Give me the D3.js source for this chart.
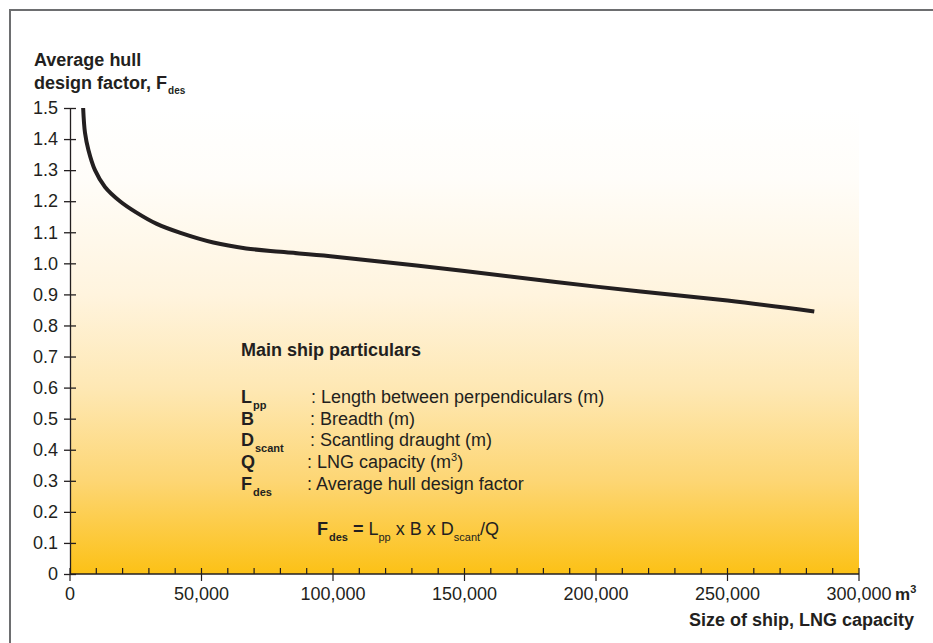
<!DOCTYPE html>
<html><head><meta charset="utf-8">
<script src="https://cdn.jsdelivr.net/npm/d3@7"></script>
<style>body{margin:0;background:#fff}svg text{font-family:"Liberation Sans",Arial,sans-serif;fill:#231f20}</style>
</head><body><svg id="c" width="933" height="643"></svg>
<script>
const capacity = [5000, 5700, 7000, 9500, 13300, 19000, 25000, 33000, 42000, 54500, 67000, 80000, 99000, 150000, 200000, 250000, 283000];
const factor   = [1.5, 1.42, 1.365, 1.30, 1.246, 1.20, 1.165, 1.127, 1.098, 1.067, 1.048, 1.037, 1.023, 0.975, 0.925, 0.88, 0.845];
const xTicks = [0, 50000, 100000, 150000, 200000, 250000, 300000];
const yTicks = [0,0.1,0.2,0.3,0.4,0.5,0.6,0.7,0.8,0.9,1.0,1.1,1.2,1.3,1.4,1.5];
const legendRows = [
  {sym:"L", sub:"pp", desc:": Length between perpendiculars (m)"},
  {sym:"B", sub:"", desc:": Breadth (m)"},
  {sym:"D", sub:"scant", desc:": Scantling draught (m)"},
  {sym:"Q", sub:"", desc:": LNG capacity (m", sup:"3", tail:")"},
  {sym:"F", sub:"des", desc:": Average hull design factor"}
];

const svg = d3.select("#c");
const x = d3.scaleLinear().domain([0,300000]).range([70,859]);
const y = d3.scaleLinear().domain([0,1.5]).range([574,108]);

// frame
svg.append("path").attr("d","M10,650 L10,10 L940,10").attr("fill","none").attr("stroke","#6d6e70").attr("stroke-width",2);

// gradient
const defs = svg.append("defs");
const g = defs.append("linearGradient").attr("id","bg").attr("x1",0).attr("y1",0).attr("x2",0).attr("y2",1);
[[0,"#ffffff"],[0.15,"#fffdf9"],[0.4,"#fff4de"],[0.6,"#fee8b4"],[0.8,"#fdd674"],[1,"#fcc116"]]
  .forEach(([o,c])=>g.append("stop").attr("offset",o).attr("stop-color",c));
svg.append("rect").attr("x",x(0)).attr("y",y(1.5)).attr("width",x(300000)-x(0)).attr("height",y(0)-y(1.5)).attr("fill","url(#bg)");

// y axis
const ya = svg.append("g").attr("transform",`translate(${x(0)},0)`)
  .call(d3.axisLeft(y).tickValues(yTicks).tickSizeInner(5).tickSizeOuter(0).tickPadding(7)
  .tickFormat(d=> d===0 ? "0" : d3.format(".1f")(d)));
ya.selectAll(".tick line").attr("x2",-6).attr("x1",6);
ya.selectAll("line,path").attr("stroke","#231f20").attr("stroke-width",1.3);
ya.selectAll("text").attr("font-size",18).attr("fill","#231f20").attr("x",-12);

// x axis
const minor = d3.range(0,300001,10000);
const xa = svg.append("g").attr("transform",`translate(0,${y(0)})`);
xa.append("line").attr("x1",x(0)).attr("x2",x(300000)).attr("stroke","#231f20").attr("stroke-width",1.5);
xa.selectAll(".mn").data(minor).join("line").attr("x1",d=>x(d)).attr("x2",d=>x(d))
  .attr("y1",-6).attr("y2",d=> d%50000===0 ? 7 : 0)
  .attr("stroke","#231f20").attr("stroke-width",1.2);
xa.selectAll(".lb").data(xTicks).join("text").attr("x",d=>x(d)).attr("y",26)
  .attr("text-anchor","middle").attr("font-size",18).text(d=>d3.format(",")(d));

// m3 unit
const unit = svg.append("text").attr("x",895).attr("y",600).attr("font-size",17).attr("font-weight","bold");
unit.append("tspan").text("m");
unit.append("tspan").attr("font-size",11).attr("dy",-7).text("3");
svg.append("text").attr("x",914).attr("y",626).attr("text-anchor","end").attr("font-size",18).attr("font-weight","bold").text("Size of ship, LNG capacity");

// y title
svg.append("text").attr("x",34).attr("y",66).attr("font-size",18).attr("font-weight","bold").text("Average hull");
const yt = svg.append("text").attr("x",34).attr("y",89).attr("font-size",18).attr("font-weight","bold");
yt.append("tspan").text("design factor, F");
yt.append("tspan").attr("font-size",10).attr("dy",5).attr("dx",1).text("des");

// curve
const line = d3.line().x((d,i)=>x(capacity[i])).y((d,i)=>y(factor[i])).curve(d3.curveCatmullRom.alpha(0.5));
svg.append("path").datum(factor).attr("d",line).attr("fill","none").attr("stroke","#231f20").attr("stroke-width",4);

// legend block
svg.append("text").attr("x",241).attr("y",356).attr("font-size",18).attr("font-weight","bold").text("Main ship particulars");
legendRows.forEach((r,i)=>{
  const by = 403 + i*21.7;
  const t = svg.append("text").attr("x",241).attr("y",by).attr("font-size",18).attr("font-weight","bold");
  t.append("tspan").text(r.sym);
  if(r.sub) t.append("tspan").attr("font-size",11).attr("dy",6).attr("dx",1).text(r.sub);
  const dx = [311,310,310,307,307][i];
  const d = svg.append("text").attr("x",dx).attr("y",by).attr("font-size",18);
  d.append("tspan").text(r.desc);
  if(r.sup){ d.append("tspan").attr("font-size",11).attr("dy",-7).text(r.sup); d.append("tspan").attr("dy",7).text(r.tail); }
});
// formula
const f = svg.append("text").attr("x",317).attr("y",535).attr("font-size",18);
f.append("tspan").attr("font-weight","bold").text("F");
f.append("tspan").attr("font-weight","bold").attr("font-size",11).attr("dy",6).attr("dx",1).text("des");
f.append("tspan").attr("dy",-6).attr("font-weight","bold").text(" = ");
f.append("tspan").text("L");
f.append("tspan").attr("font-size",11).attr("dy",6).text("pp");
f.append("tspan").attr("dy",-6).text(" x B x D");
f.append("tspan").attr("font-size",11).attr("dy",6).text("scant");
f.append("tspan").attr("dy",-6).text("/Q");
</script></body></html>
